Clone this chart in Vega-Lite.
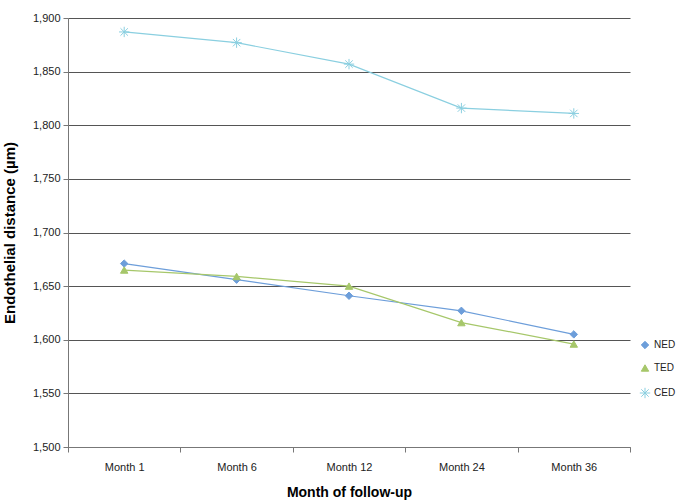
{
  "$schema": "https://vega.github.io/schema/vega-lite/v6.json",
  "autosize": "none",
  "width": 562,
  "height": 429,
  "padding": {"left": 68, "top": 18, "right": 52, "bottom": 54},
  "background": "white",
  "data": {
    "values": [
      {"month": "Month 1", "series": "NED", "value": 1671},
      {"month": "Month 6", "series": "NED", "value": 1656},
      {"month": "Month 12", "series": "NED", "value": 1641},
      {"month": "Month 24", "series": "NED", "value": 1627},
      {"month": "Month 36", "series": "NED", "value": 1605},
      {"month": "Month 1", "series": "TED", "value": 1665},
      {"month": "Month 6", "series": "TED", "value": 1659},
      {"month": "Month 12", "series": "TED", "value": 1650},
      {"month": "Month 24", "series": "TED", "value": 1616},
      {"month": "Month 36", "series": "TED", "value": 1596},
      {"month": "Month 1", "series": "CED", "value": 1887},
      {"month": "Month 6", "series": "CED", "value": 1877},
      {"month": "Month 12", "series": "CED", "value": 1857},
      {"month": "Month 24", "series": "CED", "value": 1816},
      {"month": "Month 36", "series": "CED", "value": 1811}
    ]
  },
  "encoding": {
    "x": {
      "field": "month", "type": "nominal", "sort": null,
      "scale": {"type": "band", "paddingInner": 0, "paddingOuter": 0},
      "axis": {
        "title": "Month of follow-up", "titleFontSize": 14, "titleFontWeight": "bold",
        "titleY": 45, "titleBaseline": "middle",
        "labelAngle": 0, "labelFontSize": 11, "labelPadding": 9,
        "tickBand": "extent", "tickSize": 5, "tickColor": "#777", "domainColor": "#777",
        "grid": false
      }
    },
    "y": {
      "field": "value", "type": "quantitative",
      "scale": {"domain": [1500, 1900], "nice": false, "zero": false},
      "axis": {
        "title": "Endothelial distance (µm)", "titleFontSize": 15, "titleFontWeight": "bold",
        "titleX": -59, "titleBaseline": "middle",
        "values": [1500, 1550, 1600, 1650, 1700, 1750, 1800, 1850, 1900],
        "format": ",.0f", "labelFontSize": 11, "labelPadding": 3,
        "tickSize": 5, "tickColor": "#777", "domainColor": "#777",
        "grid": true, "gridColor": "#555", "gridWidth": 1
      }
    }
  },
  "layer": [
    {
      "mark": {"type": "line", "strokeWidth": 1.2},
      "encoding": {
        "color": {
          "field": "series", "type": "nominal",
          "scale": {"domain": ["NED", "TED", "CED"], "range": ["#6d9eda", "#a6c76a", "#8acfe0"]}
        }
      }
    },
    {
      "mark": {"type": "point", "filled": true, "size": 55, "strokeWidth": 1, "opacity": 1},
      "encoding": {
        "color": {
          "field": "series", "type": "nominal",
          "scale": {"domain": ["NED", "TED", "CED"], "range": ["#6d9eda", "#a6c76a", "#8acfe0"]}
        },
        "shape": {
          "field": "series", "type": "nominal",
          "scale": {"domain": ["NED", "TED", "CED"], "range": ["diamond", "triangle-up", "M-1.4,0L1.4,0M0,-1.4L0,1.4M-1,-1L1,1M-1,1L1,-1"]}
        },
        "stroke": {
          "field": "series", "type": "nominal",
          "scale": {"domain": ["NED", "TED", "CED"], "range": ["#6d9eda", "#a6c76a", "#8acfe0"]}
        }
      }
    }
  ],
  "config": {
    "font": "Liberation Sans",
    "view": {"stroke": null},
    "axis": {"labelFont": "Liberation Sans", "titleFont": "Liberation Sans", "labelColor": "#222", "titleColor": "#000"},
    "legend": {
      "labelFont": "Liberation Sans", "title": null, "orient": "none", "legendX": 572, "legendY": 322,
      "labelFontSize": 10, "labelColor": "#222", "rowPadding": 11, "symbolSize": 55, "symbolStrokeWidth": 1
    }
  }
}
